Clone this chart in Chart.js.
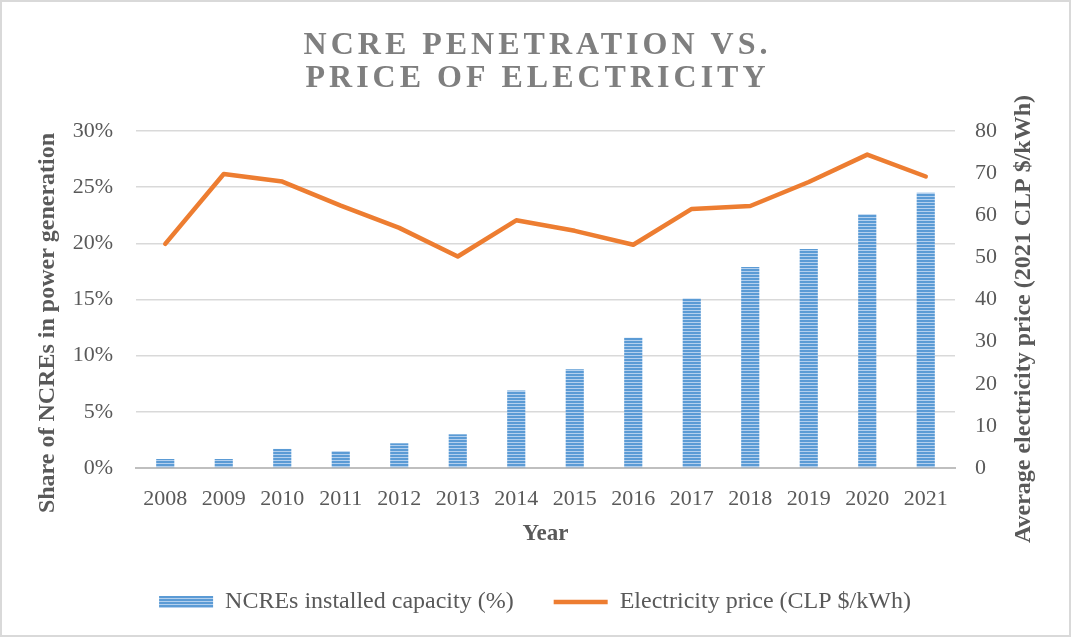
<!DOCTYPE html>
<html>
<head>
<meta charset="utf-8">
<title>NCRE penetration vs. price of electricity</title>
<script src="https://cdn.jsdelivr.net/npm/chart.js"></script>
<style>
  html, body { margin: 0; padding: 0; background: #fff; }
  #marco {
    width: 1071px; height: 637px; box-sizing: border-box;
    border: 2px solid #d9d9d9; background: #fff;
  }
  #grafico { display: block; }
</style>
</head>
<body>
<div id="marco"><canvas id="grafico" width="1067" height="633"></canvas></div>
<script>
// Datos
const anios = ['2008', '2009', '2010', '2011', '2012', '2013', '2014', '2015', '2016', '2017', '2018', '2019', '2020', '2021'];
const capacidadERNC = [0.8, 0.8, 1.7, 1.5, 2.2, 3.0, 6.9, 8.8, 11.6, 15.1, 17.9, 19.5, 22.6, 24.5];
const precioElectricidad = [53.2, 69.8, 68.0, 62.3, 57.0, 50.2, 58.8, 56.3, 53.0, 61.5, 62.2, 67.9, 74.4, 69.2];
const ticksPorcentaje = [0, 5, 10, 15, 20, 25, 30];
const ticksPrecio = [0, 10, 20, 30, 40, 50, 60, 70, 80];

const tituloLineas = ['NCRE PENETRATION VS.', 'PRICE OF ELECTRICITY'];
const tituloEjeIzq = 'Share of NCREs in power generation';
const tituloEjeDer = 'Average electricity price (2021 CLP $/kWh)';

const GRIS_TEXTO = '#595959';
const SERIF = '"Liberation Serif", "Times New Roman", serif';

// Relleno rayado de las barras
function crearRayado() {
    const c = document.createElement('canvas');
    c.width = 4; c.height = 3;
    const x = c.getContext('2d');
    x.fillStyle = '#5b9bd5';
    x.fillRect(0, 0, 4, 3);
    x.fillStyle = '#b4d0ee';
    x.fillRect(0, 2, 4, 1);
    return document.getElementById('grafico').getContext('2d').createPattern(c, 'repeat');
}

// Título con espaciado entre letras y títulos verticales de los ejes
const textosExtra = {
    id: 'textosExtra',
    afterDraw(chart) {
        const ctx = chart.ctx;
        ctx.save();
        ctx.fillStyle = '#7f7f7f';
        ctx.font = 'bold 32px ' + SERIF;
        ctx.textAlign = 'center';
        ctx.textBaseline = 'middle';
        ctx.letterSpacing = '4px';
        tituloLineas.forEach((t, i) => ctx.fillText(t, chart.width / 2 + 2, 44 + i * 33));
        ctx.letterSpacing = '0px';

        ctx.fillStyle = GRIS_TEXTO;
        ctx.font = 'bold 24px ' + SERIF;
        const yIzq = chart.scales.yPct;
        ctx.translate(yIzq.left + 19, 321);
        ctx.rotate(-Math.PI / 2);
        ctx.fillText(tituloEjeIzq, 0, 0);
        ctx.setTransform(1, 0, 0, 1, 0, 0);
        const yDer = chart.scales.yPrecio;
        ctx.translate(yDer.right - 17, 317);
        ctx.rotate(-Math.PI / 2);
        ctx.fillText(tituloEjeDer, 0, 0);
        ctx.restore();
    }
};

new Chart(document.getElementById('grafico'), {
    data: {
        labels: anios,
        datasets: [
            {
                type: 'line',
                label: 'Electricity price (CLP $/kWh)',
                data: precioElectricidad,
                yAxisID: 'yPrecio',
                borderColor: '#ed7d31',
                backgroundColor: '#ed7d31',
                borderWidth: 4.5,
                borderCapStyle: 'round',
                borderJoinStyle: 'round',
                pointRadius: 0,
                pointStyle: 'line',
                tension: 0,
                order: 0
            },
            {
                type: 'bar',
                label: 'NCREs installed capacity (%)',
                data: capacidadERNC,
                yAxisID: 'yPct',
                backgroundColor: crearRayado(),
                borderWidth: 0,
                pointStyle: 'rect',
                barPercentage: 0.31,
                categoryPercentage: 1,
                order: 1
            }
        ]
    },
    options: {
        responsive: false,
        animation: false,
        layout: { padding: { top: 129, left: 27, right: 28, bottom: 11 } },
        plugins: {
            title: { display: false },
            tooltip: { enabled: false },
            legend: {
                position: 'bottom',
                reverse: true,
                labels: {
                    usePointStyle: true,
                    pointStyleWidth: 54,
                    boxHeight: 12,
                    padding: 40,
                    color: GRIS_TEXTO,
                    font: { family: SERIF, size: 24 }
                }
            }
        },
        scales: {
            x: {
                grid: { display: false },
                border: { display: true, color: '#bfbfbf', width: 2 },
                ticks: {
                    color: GRIS_TEXTO,
                    font: { family: SERIF, size: 22 },
                    padding: 10,
                    maxRotation: 0,
                    autoSkip: false
                },
                title: {
                    display: true,
                    text: 'Year',
                    color: GRIS_TEXTO,
                    font: { family: SERIF, size: 23, weight: 'bold' },
                    padding: { top: 4, bottom: 2 }
                },
                afterFit(s) { s.height = 82; }
            },
            yPct: {
                position: 'left',
                min: 0,
                max: 30,
                afterBuildTicks(s) { s.ticks = ticksPorcentaje.map(v => ({ value: v })); },
                grid: {
                    drawTicks: false,
                    color: ctx => ctx.tick && ctx.tick.value === 0 ? 'rgba(0,0,0,0)' : '#d9d9d9',
                    lineWidth: 1.5
                },
                border: { display: false },
                ticks: {
                    color: GRIS_TEXTO,
                    font: { family: SERIF, size: 22 },
                    padding: 23,
                    callback: v => v + '%'
                },
                afterFit(s) { s.width = 107; }
            },
            yPrecio: {
                position: 'right',
                min: 0,
                max: 80,
                afterBuildTicks(s) { s.ticks = ticksPrecio.map(v => ({ value: v })); },
                grid: { display: false, drawTicks: false },
                border: { display: false },
                ticks: {
                    color: GRIS_TEXTO,
                    font: { family: SERIF, size: 22 },
                    padding: 20
                },
                afterFit(s) { s.width = 86; }
            }
        }
    },
    plugins: [textosExtra]
});
</script>
</body>
</html>
